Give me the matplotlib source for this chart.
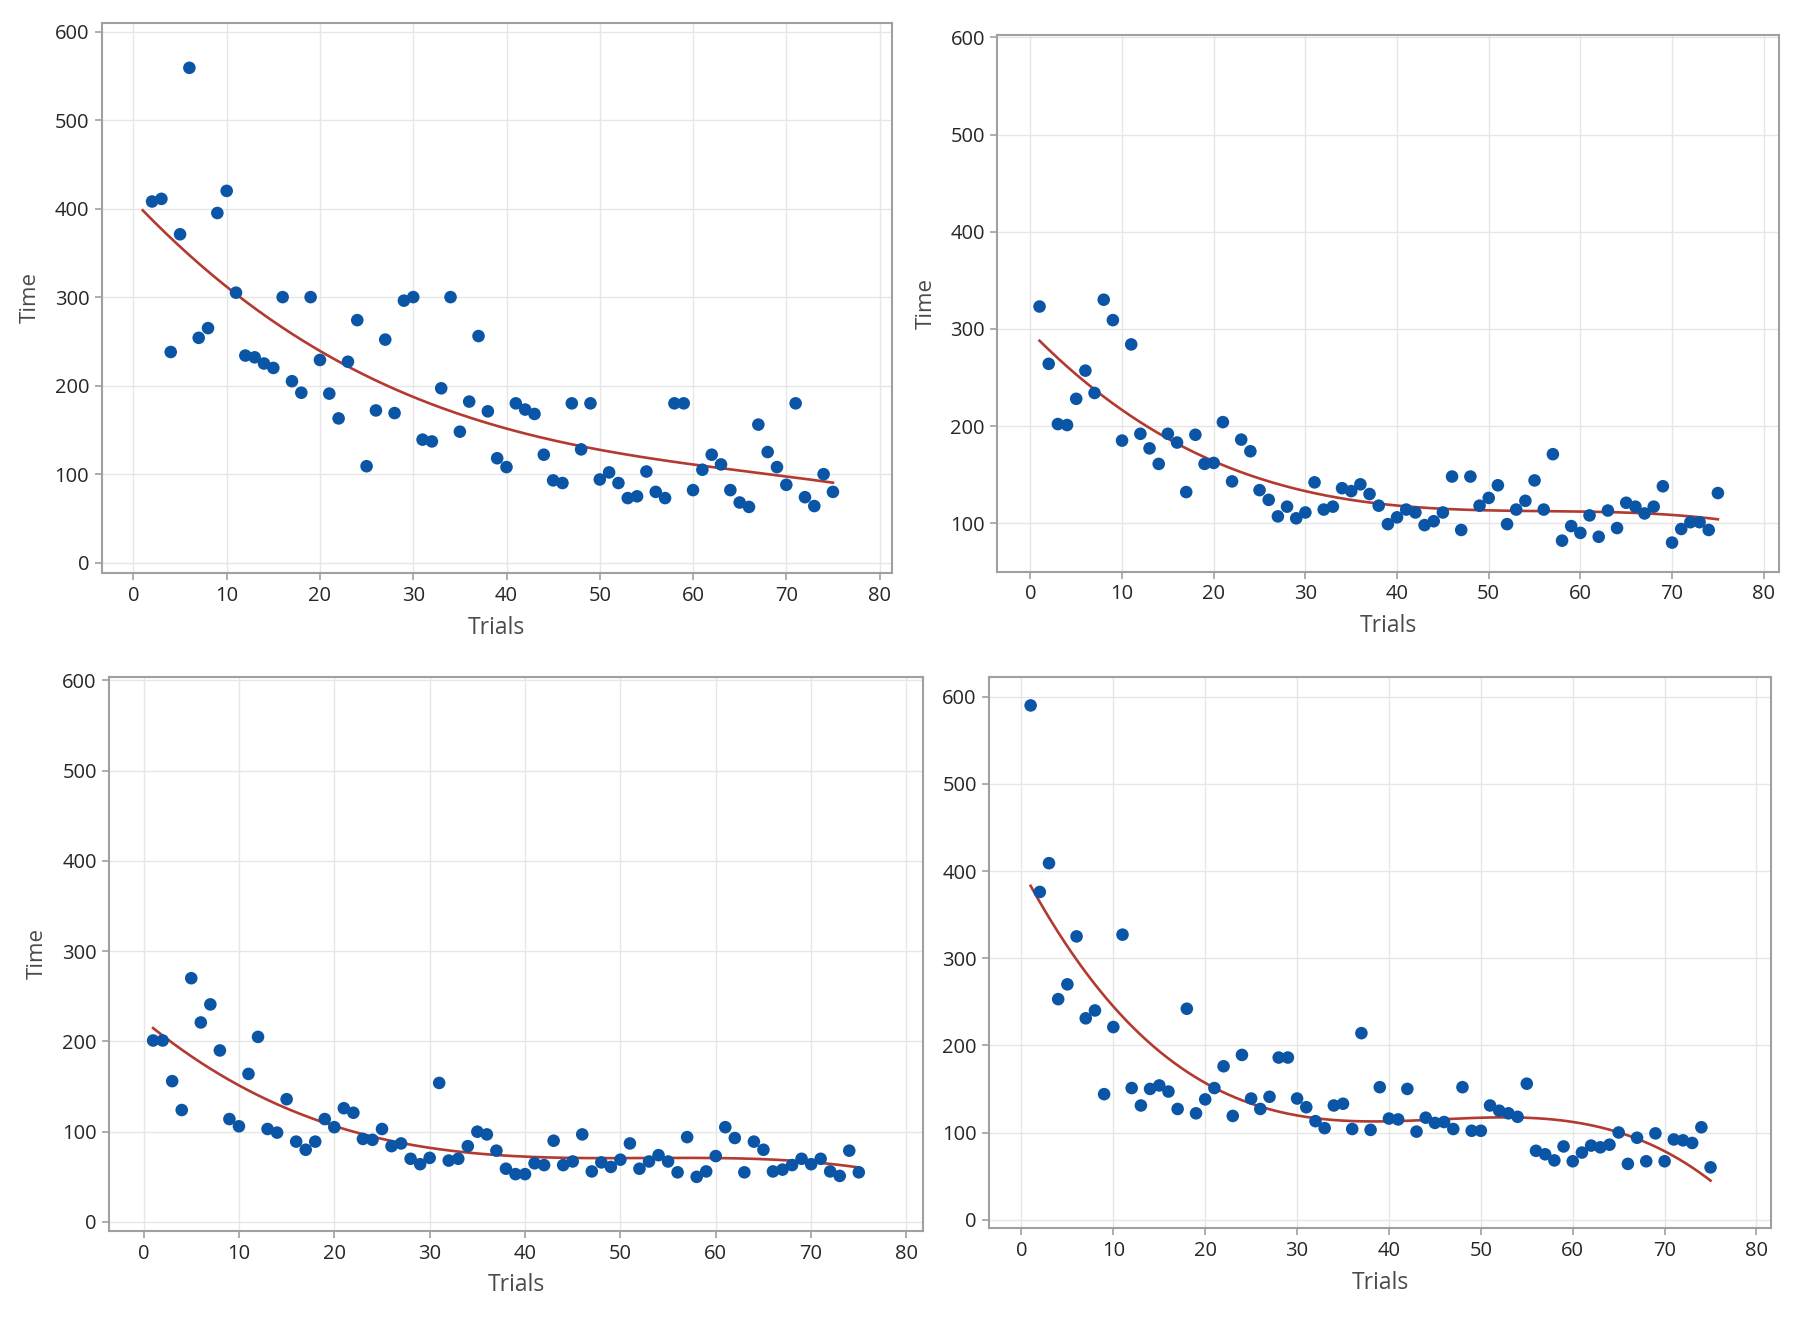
import numpy as np
import matplotlib.pyplot as plt

# ------------- data ------------------------------------------

trials_a = list(range(2, 76))      # first panel has no point at trial 1
trials = list(range(1, 76))

time_a = [408, 411, 238, 371, 559, 254, 265, 395, 420,
          305, 234, 232, 225, 220, 300, 205, 192, 300, 229,
          191, 163, 227, 274, 109, 172, 252, 169, 296, 300,
          139, 137, 197, 300, 148, 182, 256, 171, 118, 108,
          180, 173, 168, 122, 93, 90, 180, 128, 180, 94,
          102, 90, 73, 75, 103, 80, 73, 180, 180, 82,
          105, 122, 111, 82, 68, 63, 156, 125, 108, 88,
          180, 74, 64, 100, 80]

time_b = [323, 264, 202, 201, 228, 257, 234, 330, 309, 185,
          284, 192, 177, 161, 192, 183, 132, 191, 161, 162,
          204, 143, 186, 174, 134, 124, 107, 117, 105, 111,
          142, 114, 117, 136, 133, 140, 130, 118, 99, 106,
          114, 111, 98, 102, 111, 148, 93, 148, 118, 126,
          139, 99, 114, 123, 144, 114, 171, 82, 97, 90,
          108, 86, 113, 95, 121, 117, 110, 117, 138, 80,
          94, 101, 101, 93, 131]

time_c = [201, 201, 156, 124, 270, 221, 241, 190, 114, 106,
          164, 205, 103, 99, 136, 89, 80, 89, 114, 105,
          126, 121, 92, 91, 103, 84, 87, 70, 64, 71,
          154, 68, 70, 84, 100, 97, 79, 59, 53, 53,
          65, 63, 90, 63, 67, 97, 56, 66, 61, 69,
          87, 59, 67, 74, 67, 55, 94, 50, 56, 73,
          105, 93, 55, 89, 80, 56, 58, 63, 70, 64,
          70, 56, 51, 79, 55]

time_d = [590, 376, 409, 253, 270, 325, 231, 240, 144, 221,
          327, 151, 131, 150, 154, 147, 127, 242, 122, 138,
          151, 176, 119, 189, 139, 127, 141, 186, 186, 139,
          129, 113, 105, 131, 133, 104, 214, 103, 152, 116,
          115, 150, 101, 117, 111, 112, 104, 152, 102, 102,
          131, 125, 122, 118, 156, 79, 75, 68, 84, 67,
          77, 85, 83, 86, 100, 64, 94, 67, 99, 67,
          92, 91, 88, 106, 60]

x_ticks = [0, 10, 20, 30, 40, 50, 60, 70, 80]
y_ticks_full = [0, 100, 200, 300, 400, 500, 600]
y_ticks_b = [100, 200, 300, 400, 500, 600]

PT_COLOR = "#0A55A5"
FIT_COLOR = "#B23A30"
SPINE_COLOR = "#A0A0A0"
GRID_COLOR = "#E6E6E6"
TEXT_COLOR = "#262626"
LABEL_COLOR = "#4A4A4A"

plt.rcParams['font.family'] = ['Open Sans', 'DejaVu Sans']

# ------------- plotting -----------------

def draw_panel(fig, rect, x, y, xlim, ylim, yticks, ylabel=True):
    ax = fig.add_axes(rect)
    x = np.asarray(x, dtype=float)
    y = np.asarray(y, dtype=float)

    # cubic regression, as in the fitted line plot
    coef = np.polyfit(x, y, 3)
    xs = np.linspace(1, 75, 300)
    ax.plot(xs, np.polyval(coef, xs), color=FIT_COLOR, linewidth=1.9, zorder=2)
    ax.scatter(x, y, s=82, color=PT_COLOR, edgecolors="none", zorder=3)

    ax.set_xlim(*xlim)
    ax.set_ylim(*ylim)
    ax.set_xticks(x_ticks)
    ax.set_yticks(yticks)
    ax.grid(True, color=GRID_COLOR, linewidth=1.0, zorder=0)
    ax.set_axisbelow(True)
    for s in ax.spines.values():
        s.set_color(SPINE_COLOR)
        s.set_linewidth(1.5)
    ax.tick_params(axis="both", direction="out", length=5, width=1.2,
                   color=SPINE_COLOR, labelsize=14.5, labelcolor=TEXT_COLOR, pad=4)
    ax.set_xlabel("Trials", fontsize=16.5, color=LABEL_COLOR, labelpad=7)
    if ylabel:
        ax.set_ylabel("Time", fontsize=16, color=LABEL_COLOR, labelpad=10)
    return ax


fig = plt.figure(figsize=(18, 13.18), dpi=100)

draw_panel(fig, [0.0565, 0.5650, 0.4389, 0.4178], trials_a, time_a,
           (-3.4, 81.3), (-12, 610), y_ticks_full)
draw_panel(fig, [0.5541, 0.5662, 0.4344, 0.4069], trials, time_b,
           (-3.6, 81.7), (50, 602), y_ticks_b)
draw_panel(fig, [0.0607, 0.0660, 0.4519, 0.4206], trials, time_c,
           (-3.6, 81.7), (-10, 604), y_ticks_full)
draw_panel(fig, [0.5496, 0.0680, 0.4344, 0.4186], trials, time_d,
           (-3.5, 81.6), (-10, 623), y_ticks_full, ylabel=False)

plt.savefig("out.png", dpi=100)
print("Saved: out.png")
